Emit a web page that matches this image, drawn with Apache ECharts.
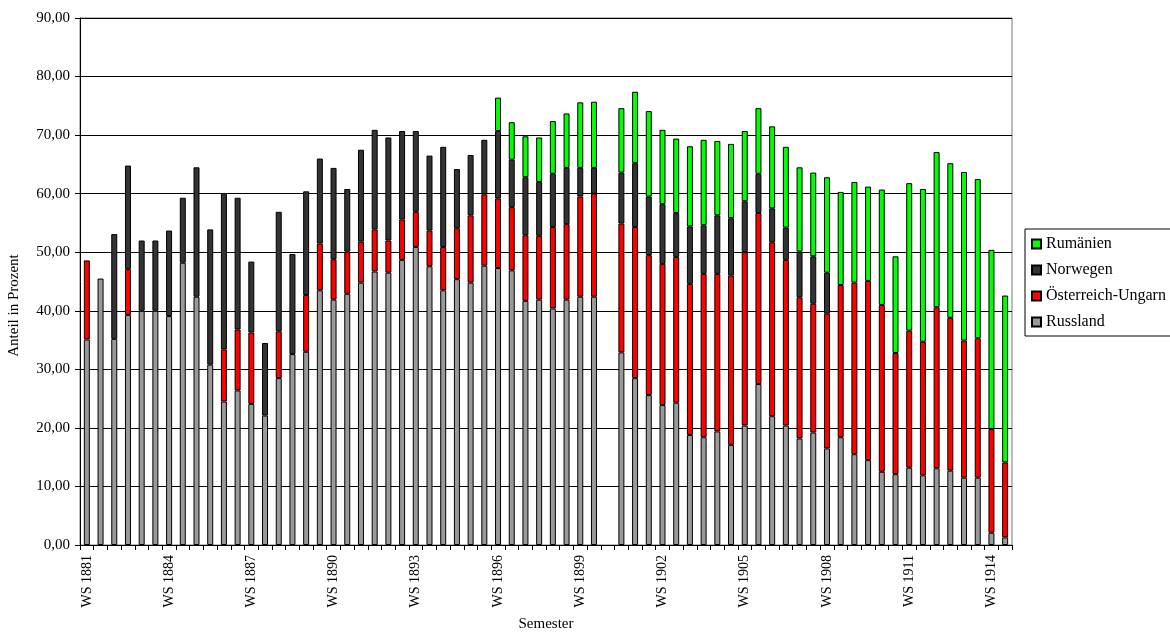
<!DOCTYPE html>
<html>
<head>
<meta charset="utf-8">
<script src="https://cdn.jsdelivr.net/npm/echarts@6/dist/echarts.min.js"></script>
<style>
html,body{margin:0;padding:0;background:#fff;}
#c{width:1170px;height:632px;}
</style>
</head>
<body>
<div id="c"></div>
<script>
var categories = ['WS 1881','SS 1882','WS 1882','SS 1883','WS 1883','SS 1884','WS 1884','SS 1885','WS 1885','SS 1886',
'WS 1886','SS 1887','WS 1887','SS 1888','WS 1888','SS 1889','WS 1889','SS 1890','WS 1890','SS 1891',
'WS 1891','SS 1892','WS 1892','SS 1893','WS 1893','SS 1894','WS 1894','SS 1895','WS 1895','SS 1896',
'WS 1896','SS 1897','WS 1897','SS 1898','WS 1898','SS 1899','WS 1899','SS 1900','WS 1900','SS 1901',
'WS 1901','SS 1902','WS 1902','SS 1903','WS 1903','SS 1904','WS 1904','SS 1905','WS 1905','SS 1906',
'WS 1906','SS 1907','WS 1907','SS 1908','WS 1908','SS 1909','WS 1909','SS 1910','WS 1910','SS 1911',
'WS 1911','SS 1912','WS 1912','SS 1913','WS 1913','SS 1914','WS 1914','SS 1915'];

var russland = [35.1,45.5,35.2,39.3,40.0,40.0,39.1,48.2,42.4,30.8,
24.5,26.4,24.1,22.1,28.5,32.6,33.0,43.5,41.9,42.9,
44.8,46.7,46.5,48.7,50.9,47.6,43.5,45.4,44.8,47.7,
47.3,46.9,41.7,41.9,40.4,41.9,42.4,42.4,null,32.9,
28.5,25.6,23.9,24.3,18.8,18.4,19.4,17.1,20.4,27.5,
22.0,20.4,18.2,19.2,16.5,18.4,15.5,14.5,12.5,12.1,
13.2,11.9,13.1,12.7,11.5,11.5,2.1,1.3];

var oesterreich = [13.5,null,null,7.8,null,null,null,null,null,null,
8.9,10.4,12.2,null,8.0,null,9.7,8.0,6.9,7.2,
7.0,7.2,5.5,6.9,6.0,6.1,7.4,8.7,11.5,12.2,
11.9,10.8,11.2,10.9,13.9,12.9,17.1,17.6,null,22.0,
25.8,23.9,24.1,24.9,25.8,27.9,26.9,28.9,29.6,29.2,
29.7,28.3,24.1,22.0,23.0,26.0,29.3,30.6,28.5,20.7,
23.4,22.8,27.5,26.1,23.4,23.8,17.7,12.8];

var norwegen = [null,null,17.9,17.7,12.0,12.0,14.6,11.1,22.1,23.1,
26.7,22.5,12.1,12.4,20.4,17.1,17.7,14.5,15.6,10.7,
15.7,17.0,17.6,15.1,13.8,12.8,17.1,10.1,10.3,9.3,
11.5,8.1,9.9,9.2,9.1,9.6,4.9,4.4,null,8.7,
10.9,10.0,10.2,7.5,9.8,8.3,10.0,9.8,8.7,6.7,
5.8,5.5,7.8,8.1,7.0,null,null,null,null,null,
null,null,null,null,null,null,null,null];

var rumaenien = [null,null,null,null,null,null,null,null,null,null,
null,null,null,null,null,null,null,null,null,null,
null,null,null,null,null,null,null,null,null,null,
5.7,6.4,7.0,7.6,9.0,9.3,11.2,11.3,null,11.0,
12.2,14.6,12.7,12.7,13.7,14.6,12.7,12.7,12.0,11.2,
14.0,13.8,14.4,14.3,16.3,15.9,17.2,16.1,19.7,16.5,
25.2,26.1,26.5,26.4,28.8,27.2,30.6,28.5];

var seriesNames = ['Russland','Österreich-Ungarn','Norwegen','Rumänien'];
var legendOrder = ['Rumänien','Norwegen','Österreich-Ungarn','Russland'];
var colors = ['#999999','#ff0000','#333333','#00ff00'];
var seriesData = [russland, oesterreich, norwegen, rumaenien];

var FONT = '"Liberation Serif", "Times New Roman", serif';

var chart = echarts.init(document.getElementById('c'), null, {renderer:'canvas'});
var series = seriesNames.map(function(n, k){
  return {
    name: n,
    type: 'bar',
    stack: 'total',
    barWidth: 6,
    data: seriesData[k],
    itemStyle: {color: colors[k], borderColor: '#000', borderWidth: 1},
    emphasis: {disabled: true}
  };
});

chart.setOption({
  animation: false,
  backgroundColor: '#fff',
  grid: {
    left: 80, right: 158, top: 18, bottom: 87,
    containLabel: false, outerBoundsMode: 'none',
    show: true, borderColor: '#777', borderWidth: 1, backgroundColor: 'transparent'
  },
  legend: {
    orient: 'vertical',
    left: 1025, top: 229,
    data: legendOrder,
    padding: [7, 100, 6, 6],
    itemGap: 10,
    itemWidth: 9, itemHeight: 9,
    borderColor: '#000', borderWidth: 1,
    backgroundColor: '#fff',
    textStyle: {fontFamily: FONT, fontSize: 16, color: '#000', lineHeight: 16},
    icon: 'rect'
  },
  xAxis: {
    type: 'category',
    data: categories,
    name: 'Semester',
    nameLocation: 'middle',
    nameGap: 72,
    nameTextStyle: {fontFamily: FONT, fontSize: 15, color: '#000'},
    axisLine: {lineStyle: {color: '#000', width: 1}},
    axisTick: {show: true, interval: 0, length: 5, lineStyle: {color: '#000'}},
    axisLabel: {interval: 5, rotate: 90, fontFamily: FONT, fontSize: 14, color: '#000', margin: 10},
    splitLine: {show: false}
  },
  yAxis: {
    type: 'value',
    min: 0, max: 90, interval: 10,
    name: 'Anteil in Prozent',
    nameLocation: 'middle',
    nameGap: 58,
    nameTextStyle: {fontFamily: FONT, fontSize: 15, color: '#000', padding: [0, 48, 0, 0]},
    axisLine: {show: true, lineStyle: {color: '#000', width: 1}},
    axisTick: {show: true, length: 5, lineStyle: {color: '#000'}},
    axisLabel: {
      fontFamily: FONT, fontSize: 15, color: '#000', margin: 10,
      formatter: function(v){ return v.toFixed(2).replace('.', ','); }
    },
    splitLine: {show: true, lineStyle: {color: '#000', width: 1}}
  },
  series: series
});
</script>
</body>
</html>
